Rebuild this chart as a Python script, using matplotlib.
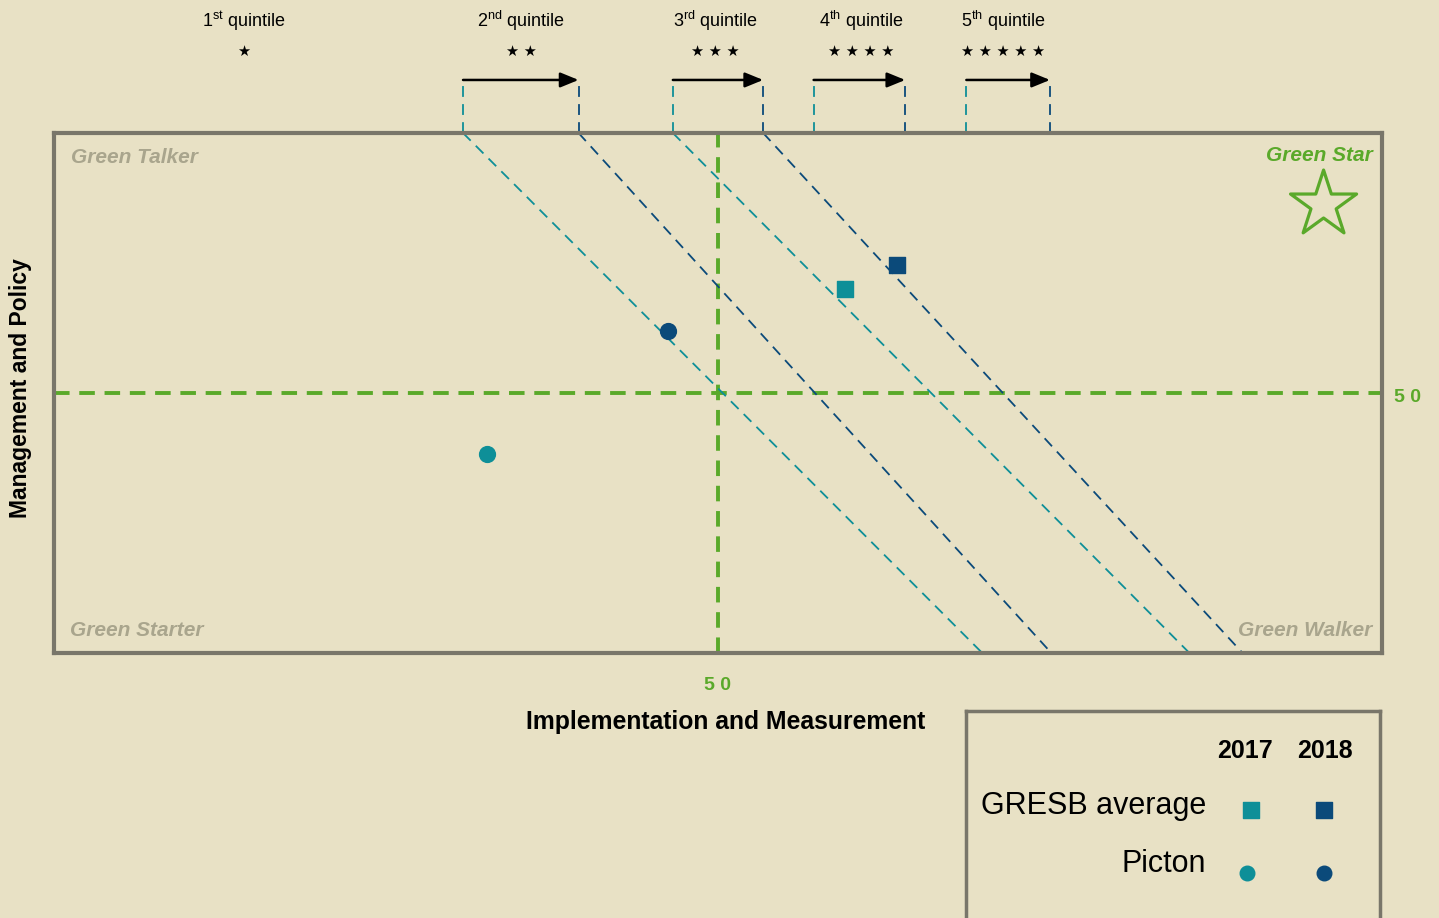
import numpy as np
import matplotlib
matplotlib.use('Agg')
import matplotlib.pyplot as plt

plt.rcParams['mathtext.fontset'] = 'custom'
plt.rcParams['mathtext.rm'] = 'Liberation Sans'

# colours
bg = '#e8e1c5'
teal = '#0e8f98'
navy = '#0b4a7a'
green = '#5aa92a'
grey_txt = '#a9a58d'
frame = '#79766a'
sans = ['Liberation Sans', 'DejaVu Sans']

# quintile bands: top x where the boundary leaves the box, bottom x where it lands
quintiles = [r'1$^{\rm st}$ quintile', r'2$^{\rm nd}$ quintile', r'3$^{\rm rd}$ quintile',
             r'4$^{\rm th}$ quintile', r'5$^{\rm th}$ quintile']
quint_x = [14.3, 35.2, 49.8, 60.8, 71.5]
n_stars = [1, 2, 3, 4, 5]
band_lo = [30.8, 46.6, 57.2, 68.7]
band_hi = [39.5, 53.4, 64.1, 75.0]
diag_lo_bottom = [69.9, 85.5]
diag_hi_bottom = [75.1, 89.5]

# scatter points (implementation, management)
gresb_x = [59.6, 63.5]
gresb_y = [70.0, 74.6]
picton_x = [32.6, 46.2]
picton_y = [38.3, 61.9]
years = ['2017', '2018']

W, H = 1439, 918
fig = plt.figure(figsize=(W / 100, H / 100), dpi=100, facecolor=bg)
ax = fig.add_axes([54 / W, (H - 653) / H, 1328 / W, 520 / H])
ax.set_facecolor(bg)
ax.set_xlim(0, 100)
ax.set_ylim(0, 100)
ax.set_xticks([])
ax.set_yticks([])
for s in ax.spines.values():
    s.set_color(frame)
    s.set_linewidth(3)

# quadrant lines
ax.axvline(50, color=green, lw=2.8, ls=(0, (4, 2.5)), zorder=2)
ax.axhline(50, color=green, lw=2.8, ls=(0, (4, 2.5)), zorder=2)

# diagonal quintile boundaries
dash = (0, (6, 4))
for i in range(2):
    ax.plot([band_lo[i], diag_lo_bottom[i]], [100, 0], color=teal, lw=1.3, ls=dash)
    ax.plot([band_hi[i], diag_hi_bottom[i]], [100, 0], color=navy, lw=1.3, ls=dash)

# brackets above the box
y_arr = 110.2
for lo, hi in zip(band_lo, band_hi):
    ax.plot([lo, lo], [100, y_arr], color=teal, lw=1.3, ls=dash, clip_on=False)
    ax.plot([hi, hi], [100, y_arr], color=navy, lw=1.3, ls=dash, clip_on=False)
    ax.annotate('', xy=(hi, y_arr), xytext=(lo, y_arr), annotation_clip=False,
                arrowprops=dict(arrowstyle='-|>,head_length=1.1,head_width=0.45',
                                color='black', lw=1.8, shrinkA=0, shrinkB=0))

for name, qx, n in zip(quintiles, quint_x, n_stars):
    ax.text(qx, 121.5, name, ha='center', va='center', fontsize=13,
            family=sans, clip_on=False)
    ax.text(qx, 115.6, ' '.join(['\u2605'] * n), ha='center', va='center',
            fontsize=10.5, family='DejaVu Sans', clip_on=False)

# points
ax.scatter(gresb_x[0], gresb_y[0], marker='s', s=120, color=teal, zorder=5)
ax.scatter(gresb_x[1], gresb_y[1], marker='s', s=120, color=navy, zorder=5)
ax.scatter(picton_x[0], picton_y[0], marker='o', s=130, color=teal, zorder=5)
ax.scatter(picton_x[1], picton_y[1], marker='o', s=130, color=navy, zorder=5)

# quadrant labels
qkw = dict(fontsize=15, fontweight='bold', style='italic', family=sans)
ax.text(1.3, 95.2, 'Green Talker', color=grey_txt, va='center', ha='left', **qkw)
ax.text(1.2, 4.3, 'Green Starter', color=grey_txt, va='center', ha='left', **qkw)
ax.text(99.3, 4.3, 'Green Walker', color=grey_txt, va='center', ha='right', **qkw)
ax.text(99.3, 95.7, 'Green Star', color=green, va='center', ha='right', **qkw)
ax.scatter(95.6, 86.2, marker='*', s=2500, facecolor='none', edgecolor=green,
           linewidth=2.3, zorder=5)

ax.text(50, -6.3, '5 0', color=green, fontsize=14, fontweight='bold',
        ha='center', va='center', family=sans, clip_on=False)
ax.text(101.9, 49.2, '5 0', color=green, fontsize=14, fontweight='bold',
        ha='center', va='center', family=sans, clip_on=False)

ax.text(50.6, -13.2, 'Implementation and Measurement', fontsize=17.8, fontweight='bold',
        ha='center', va='center', family=sans, clip_on=False)
ax.text(-2.5, 51, 'Management and Policy', fontsize=16.5, fontweight='bold',
        ha='center', va='center', rotation=90, family=sans, clip_on=False)

# legend box
lg = fig.add_axes([966 / W, -0.02, 414 / W, (H - 711) / H + 0.02])
lg.set_facecolor(bg)
lg.set_xlim(966, 1380)
lg.set_ylim(918 + 0.02 * H, 711)
lg.set_xticks([])
lg.set_yticks([])
lg.spines['bottom'].set_visible(False)
for k in ['left', 'top', 'right']:
    lg.spines[k].set_color(frame)
    lg.spines[k].set_linewidth(2.5)
col_x = [1245, 1325]
for yr, cx in zip(years, col_x):
    lg.text(cx, 751, yr, fontsize=18, fontweight='bold', ha='center', va='center', family=sans)
lg.text(1206, 806, 'GRESB average', fontsize=22, ha='right', va='center', family=sans)
lg.text(1206, 864, 'Picton', fontsize=22, ha='right', va='center', family=sans)
lg.scatter([1251], [810], marker='s', s=120, color=teal)
lg.scatter([1324], [810], marker='s', s=120, color=navy)
lg.scatter([1247], [873], marker='o', s=110, color=teal)
lg.scatter([1324], [873], marker='o', s=110, color=navy)

fig.savefig('out.png', dpi=100, facecolor=bg)
